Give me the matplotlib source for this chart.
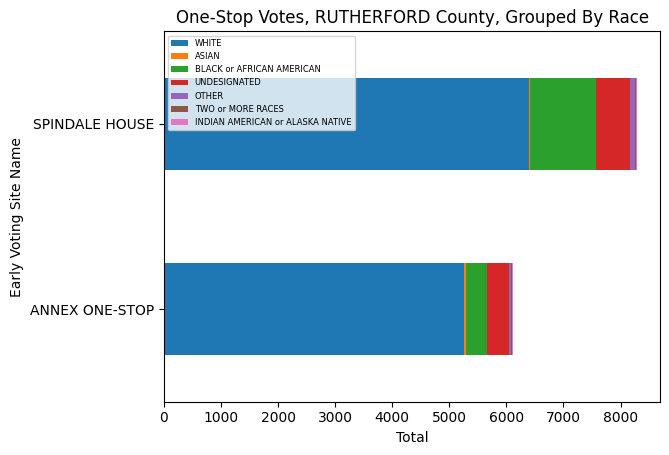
import matplotlib
matplotlib.use("Agg")
import matplotlib.pyplot as plt
import numpy as np

sites = ["ANNEX ONE-STOP", "SPINDALE HOUSE"]
races = ["WHITE", "ASIAN", "BLACK or AFRICAN AMERICAN", "UNDESIGNATED", "OTHER",
         "TWO or MORE RACES", "INDIAN AMERICAN or ALASKA NATIVE"]
white = [5260, 6400]
asian = [25, 20]
black = [380, 1155]
undesignated = [385, 595]
other = [35, 88]
two_more = [15, 15]
indian = [20, 10]
series = [white, asian, black, undesignated, other, two_more, indian]
colors = ["#1f77b4", "#ff7f0e", "#2ca02c", "#d62728", "#9467bd", "#8c564b", "#e377c2"]

fig, ax = plt.subplots(figsize=(6.69, 4.55), dpi=100)
y = np.arange(len(sites))
left = np.zeros(len(sites))
for name, vals, c in zip(races, series, colors):
    ax.barh(y, vals, height=0.5, left=left, color=c, label=name)
    left += np.array(vals)
ax.set_yticks(y)
ax.set_yticklabels(sites)
ax.set_ylim(-0.5, 1.5)
ax.set_xlim(0, left.max() * 1.05)
ax.set_xlabel("Total")
ax.set_ylabel("Early Voting Site Name")
ax.set_title("One-Stop Votes, RUTHERFORD County, Grouped By Race")
ax.legend(loc="upper left", fontsize=6)
fig.subplots_adjust(left=0.245, right=0.987, top=0.931, bottom=0.117)
fig.savefig("out.png", dpi=100)
